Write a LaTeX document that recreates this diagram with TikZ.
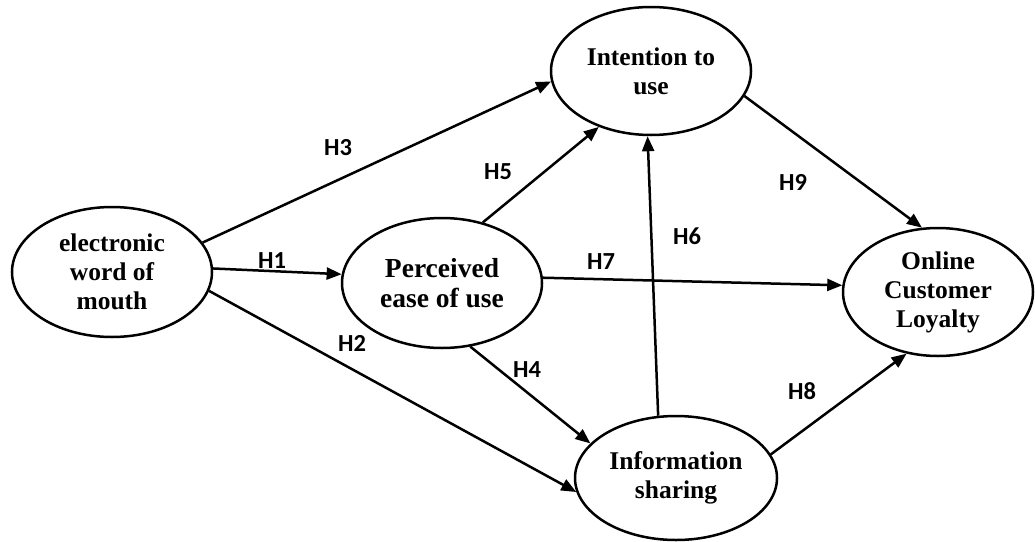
\documentclass[tikz,border=0pt]{standalone}
\usepackage{fontspec}
\setmainfont{Liberation Serif}
\newfontfamily\labfont{Carlito}
\usetikzlibrary{shapes.geometric,arrows.meta}
\begin{document}
\begin{tikzpicture}[x=1pt,y=-1pt,
  construct/.style={draw,ellipse,line width=2.5pt,inner sep=0pt,align=center,
    font=\bfseries\fontsize{25.5}{29}\selectfont},
  hyp/.style={font=\labfont\bfseries\fontsize{24.5}{27}\selectfont,inner sep=0pt},
  link/.style={line width=2.5pt,-{Triangle[length=15pt,width=12pt]}}]
\useasboundingbox (0,0) rectangle (1035,541);
\node[construct,minimum width=200pt,minimum height=130pt] (e) at (112,272) {electronic\\word of\\mouth};
\node[construct,minimum width=200pt,minimum height=130pt,font=\bfseries\fontsize{27.5}{30}\selectfont] (p) at (442,283) {Perceived\\ease of use};
\node[construct,minimum width=200pt,minimum height=128pt] (i) at (651,71) {Intention to\\use};
\node[construct,minimum width=202pt,minimum height=124pt] (s) at (676,478) {Information\\sharing};
\node[construct,minimum width=190pt,minimum height=128pt] (o) at (938,292) {Online\\Customer\\Loyalty};
\draw[link] (e.2) -- (p.175);
\draw[link] (e.-11) -- (s.188);
\draw[link] (e.18) -- (i.186);
\draw[link] (p.-66) -- (s.158);
\draw[link] (p.56) -- (i.227);
\draw[link] (s.106) -- (i.267);
\draw[link] (p.3.5) -- (o.176);
\draw[link] (s.14) -- (o.243);
\draw[link] (i.-15) -- (o.104);
\node[hyp] (h1) at (272,261) {H1};
\node[hyp] (h2) at (352,343) {H2};
\node[hyp] (h3) at (338,148) {H3};
\node[hyp] (h4) at (527,370) {H4};
\node[hyp] (h5) at (498,172) {H5};
\node[hyp] (h6) at (687,236) {H6};
\node[hyp] (h7) at (601,262) {H7};
\node[hyp] (h8) at (802,391) {H8};
\node[hyp] (h9) at (793,182) {H9};
\end{tikzpicture}
\end{document}
